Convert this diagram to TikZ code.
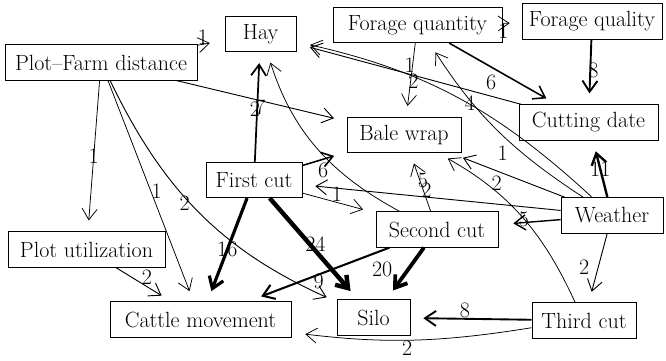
\documentclass[tikz,border=0pt]{standalone}
\usepackage{tikz}
\usetikzlibrary{arrows.meta}
\newcommand{\gfont}{\fontsize{22}{26}\selectfont}

\begin{document}
\begin{tikzpicture}[x=1pt,y=-1pt,>={Straight Barb[length=11pt,width=15pt]},
    box/.style={draw, line width=0.7pt, minimum height=35.5pt, inner sep=0pt, font=\gfont},
    ew/.style={->, line width={0.6pt+0.16pt*#1}, shorten >=11pt},
    lbl/.style={font=\gfont, inner sep=0pt}]
    \useasboundingbox (0,0) rectangle (666,360);
    % Boxes
    \node[box, minimum width=71pt]  (hay)     at (260.5,34)   {Hay};
    \node[box, minimum width=169pt] (fqty)    at (417.5,25)   {Forage quantity};
    \node[box, minimum width=140pt] (fqual)   at (592,21.5)   {Forage quality};
    \node[box, minimum width=192pt] (pfd)     at (101,62.5)   {Plot--Farm distance};
    \node[box, minimum width=114pt] (bale)    at (404,135)    {Bale wrap};
    \node[box, minimum width=139pt] (cutd)    at (588.5,122.5) {Cutting date};
    \node[box, minimum width=96pt]  (first)   at (254,180)    {First cut};
    \node[box, minimum width=102pt] (weather) at (612,215.5)  {Weather};
    \node[box, minimum width=122pt] (second)  at (437,229.5)  {Second cut};
    \node[box, minimum width=157pt] (plotu)   at (86.5,249.5) {Plot utilization};
    \node[box, minimum width=181pt] (cattle)  at (200.5,319.5) {Cattle movement};
    \node[box, minimum width=73pt]  (silo)    at (373.5,317.5) {Silo};
    \node[box, minimum width=104pt] (third)   at (584,320.5)  {Third cut};

    % Plot--Farm distance
    \draw[ew=1, shorten >=15pt] (pfd) -- node[lbl, pos=0.2, yshift=7pt] {1} (hay);
    \draw[ew=2, shorten >=13pt] (pfd) -- node[lbl, pos=0.46, yshift=-10pt] {2} (bale);
    \draw[ew=1] (pfd) -- node[lbl, pos=0.5] {1} (plotu);
    \draw[ew=1] (pfd) -- node[lbl, pos=0.5, xshift=6pt] {1} (cattle);
    \draw[ew=2] (pfd) to[bend right=20] node[lbl, pos=0.45, xshift=-6pt] {2} (silo);
    \draw[ew=2] (plotu) -- node[lbl, pos=0.56, yshift=9pt] {2} (cattle);

    % First cut
    \draw[ew=7] (first) -- node[lbl, pos=0.5, xshift=3pt] {7} (hay);
    \draw[ew=16] (first) -- node[lbl, pos=0.5] {16} (cattle);
    \draw[ew=24] (first) -- node[lbl, pos=0.45, xshift=6pt] {24} (silo);
    \draw[ew=6, shorten >=13pt] (first) -- node[lbl, pos=0.47, yshift=-11pt] {6} (bale);
    \draw[ew=1, shorten >=13pt] (first) -- node[lbl, pos=0.47, yshift=8pt] {1} (second);

    % Second cut
    \draw[ew=20] (second) -- node[lbl, pos=0.42, xshift=-26pt] {20} (silo);
    \draw[ew=9, shorten >=14pt] (second) -- node[lbl, pos=0.5, yshift=-7pt] {9} (cattle);
    \draw[ew=1] (second) -- node[lbl, pos=0.525, xshift=3pt] {5} (bale);
    \draw[ew=1] (second) to[bend left=22] (hay);

    % Third cut
    \draw[ew=8, shorten >=13pt] (third) -- node[lbl, pos=0.55, yshift=8pt] {8} (silo);
    \draw[ew=1, shorten >=14pt] (third) to[bend left=8] node[lbl, pos=0.52, yshift=-8pt] {2} (cattle);
    \draw[ew=1] (third) to[bend right=18] (bale);

    % Weather
    \draw[ew=2] (weather) -- node[lbl, pos=0.49, xshift=-14pt] {2} (third);
    \draw[ew=5, shorten >=15pt] (weather) -- node[lbl, pos=0.59, yshift=3pt] {5} (second);
    \draw[ew=2, shorten >=13pt] (weather) -- node[lbl, pos=0.6, yshift=-12pt] {2} (bale);
    \draw[ew=2, shorten >=13pt] (weather) -- node[lbl, pos=0.52, yshift=7pt] {2} (first);
    \draw[ew=1] (weather) to[bend left=12] node[lbl, pos=0.33, xshift=-20pt] {1} (fqty);
    \draw[ew=1, shorten >=14pt] (weather) to[bend right=15] node[lbl, pos=0.45, yshift=2pt] {4} (hay);
    \draw[ew=11] (weather) -- node[lbl, pos=0.5] {11} (cutd);

    % Forage and cutting date
    \draw[ew=2, shorten >=14pt] (cutd) -- node[lbl, pos=0.48, yshift=-6pt] {2} (hay);
    \draw[ew=1] (fqty) -- node[lbl, pos=0.3, xshift=-3pt] {1} (bale);
    \draw[ew=1, shorten >=12pt] (fqty) -- node[lbl, pos=0.05, yshift=-8pt] {1} (fqual);
    \draw[ew=6, shorten >=12pt] (fqty) -- node[lbl, pos=0.39, yshift=-15pt] {6} (cutd);
    \draw[ew=8] (fqual) -- node[lbl, pos=0.48, xshift=3pt] {8} (cutd);
\end{tikzpicture}
\end{document}
